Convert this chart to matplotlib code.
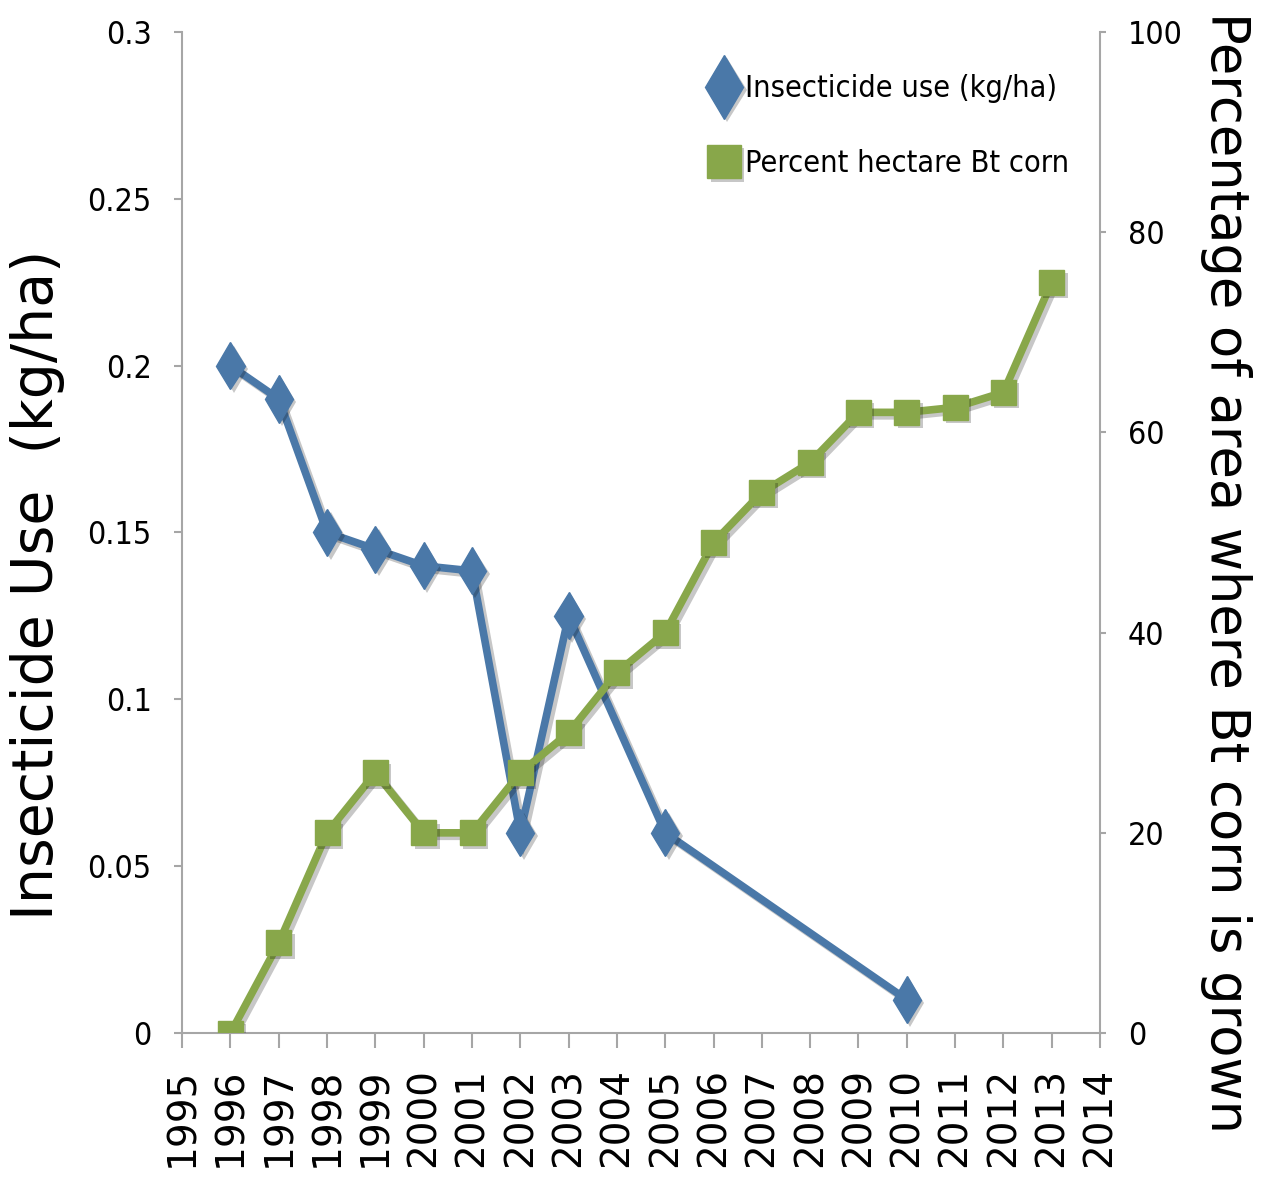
import numpy as np
import matplotlib.pyplot as plt
import matplotlib.patheffects as pe

# Data
years_insecticide = [1996, 1997, 1998, 1999, 2000, 2001, 2002, 2003, 2005, 2010]
insecticide_use = [0.200, 0.190, 0.150, 0.145, 0.140, 0.1385, 0.060, 0.125, 0.060, 0.010]

years_bt = [1996, 1997, 1998, 1999, 2000, 2001, 2002, 2003, 2004, 2005,
            2006, 2007, 2008, 2009, 2010, 2011, 2012, 2013]
bt_percent = [0, 9, 20, 26, 20, 20, 26, 30, 36, 40,
              49, 54, 57, 62, 62, 62.5, 64, 75]

x_ticks = list(range(1995, 2015))
left_ticks = [0, 0.05, 0.1, 0.15, 0.2, 0.25, 0.3]
left_tick_labels = ['0', '0.05', '0.1', '0.15', '0.2', '0.25', '0.3']
right_ticks = [0, 20, 40, 60, 80, 100]

blue = '#4a78a8'
green = '#88a74a'
spine_gray = '#a6a6a6'
narrow = dict(family='DejaVu Sans', fontstretch='condensed')

line_shadow = [pe.SimpleLineShadow(offset=(2.5, -2.5), shadow_color='k', alpha=0.22), pe.Normal()]
mark_shadow = [pe.SimplePatchShadow(offset=(2.5, -2.5), shadow_rgbFace='k', alpha=0.22), pe.Normal()]

fig = plt.figure(figsize=(12.65, 11.82), dpi=100)
ax = fig.add_axes([0.144, 0.126, 0.7256, 0.847])
ax2 = ax.twinx()

# Insecticide use (left axis)
ax.plot(years_insecticide, insecticide_use, color=blue, lw=5.5,
        solid_joinstyle='miter', path_effects=line_shadow, zorder=2)
h1, = ax.plot(years_insecticide, insecticide_use, ls='none', marker='d', ms=24,
              mec=blue, mfc=blue, path_effects=mark_shadow, zorder=3,
              label='Insecticide use (kg/ha)')

# Bt corn percentage (right axis)
ax2.plot(years_bt, bt_percent, color=green, lw=5.5,
         solid_joinstyle='miter', path_effects=line_shadow, zorder=2)
h2, = ax2.plot(years_bt, bt_percent, ls='none', marker='s', ms=18,
               mec=green, mfc=green, path_effects=mark_shadow, zorder=3,
               label='Percent hectare Bt corn')

ax.set_xlim(1995, 2014)
ax.set_ylim(0, 0.3)
ax2.set_ylim(0, 100)

ax.set_xticks(x_ticks)
ax.set_xticklabels([str(y) for y in x_ticks], rotation=90, fontsize=28,
                   family='DejaVu Sans')
ax.set_yticks(left_ticks)
ax.set_yticklabels(left_tick_labels, fontsize=23, **narrow)
ax2.set_yticks(right_ticks)
ax2.set_yticklabels([str(v) for v in right_ticks], fontsize=23, **narrow)

for a in (ax, ax2):
    a.spines['top'].set_visible(False)
    for s in ('left', 'right', 'bottom'):
        a.spines[s].set_color(spine_gray)
        a.spines[s].set_linewidth(1.5)
ax.spines['right'].set_visible(False)
ax2.spines['left'].set_visible(False)
ax2.spines['bottom'].set_visible(False)

ax.tick_params(axis='x', direction='out', length=11, width=1.5, color=spine_gray, pad=14)
ax.tick_params(axis='y', direction='out', length=6, width=1.5, color=spine_gray, pad=16)
ax2.tick_params(axis='y', direction='out', length=4, width=1.5, color=spine_gray, pad=16)

ax.set_ylabel('Insecticide Use  (kg/ha)', fontsize=41, family='DejaVu Sans',
              ha='center', va='center')
ax.yaxis.set_label_coords(-0.158, 0.448)
ax2.set_ylabel('Percentage of area where Bt corn is grown', fontsize=38,
               family='DejaVu Sans', rotation=270, ha='center', va='center')
ax2.yaxis.set_label_coords(1.137, 0.46)

leg = ax2.legend(handles=[h1, h2], loc='upper left', bbox_to_anchor=(0.547, 0.985),
                 frameon=False, prop=dict(family='DejaVu Sans', stretch='condensed', size=22),
                 handlelength=0.8, handletextpad=0.3, labelspacing=1.5, markerscale=1.35)

fig.savefig('out.png', dpi=100)
